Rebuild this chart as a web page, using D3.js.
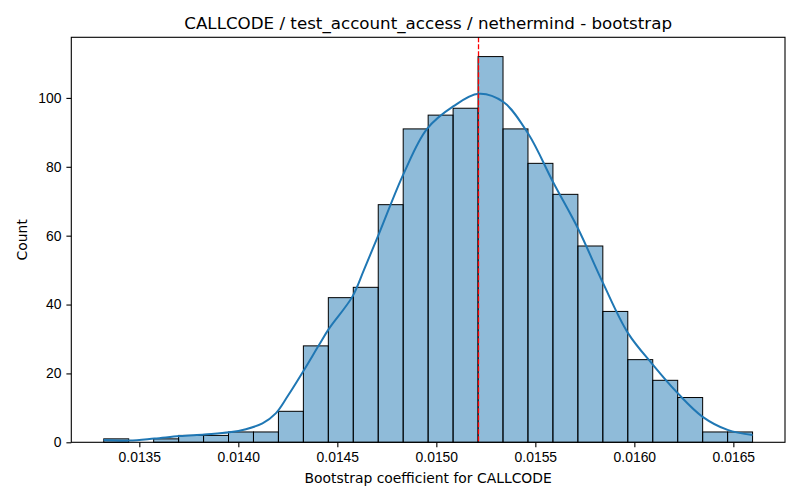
<!DOCTYPE html>
<html>
<head>
<meta charset="utf-8">
<script src="https://cdn.jsdelivr.net/npm/d3@7"></script>
<style>
    body { margin: 0; background: #fff; }
    svg { font-family: "DejaVu Sans", sans-serif; }
    .tick text { font-size: 13.9px; fill: #000; }
    .tick line, .domain { stroke: #000; }
</style>
</head>
<body>
<svg id="chart" width="800" height="500"></svg>
<script>
// histogram of bootstrap samples (26 equal bins between min and max)
var binMin = 0.0133203,
    binMax = 0.016597;
var counts = [1, 0, 1, 2, 2, 3, 3, 9, 28, 42, 45, 69, 91, 95, 97, 112,
              91, 81, 72, 57, 38, 24, 18, 13, 3, 3];

// kde curve (in count units)
var kdeX = [0.013320, 0.013450, 0.013577, 0.013703, 0.013829, 0.013955, 0.014038,
            0.014122, 0.014189, 0.014248, 0.014332, 0.014408, 0.014458, 0.014576,
            0.014634, 0.014710, 0.014835, 0.014953, 0.015087, 0.015213, 0.015339,
            0.015465, 0.015590, 0.015716, 0.015842, 0.015968, 0.016094, 0.016220,
            0.016345, 0.016471, 0.016597];
var kdeY = [0.7, 0.5, 1.1, 1.8, 2.3, 2.9, 3.8, 5.5, 8.4, 13.3, 21, 28.3, 33, 42.3,
            50, 60.5, 78, 91, 97.6, 101.2, 98.8, 89.5, 75.5, 62, 46.2, 31.7, 22.5,
            14.2, 7.4, 3.6, 2.1];

var meanValue = 0.015213;

var xTicks = [0.0135, 0.0140, 0.0145, 0.0150, 0.0155, 0.0160, 0.0165];
var yTicks = [0, 20, 40, 60, 80, 100];

var titleText = "CALLCODE / test_account_access / nethermind - bootstrap",
    xLabel = "Bootstrap coefficient for CALLCODE",
    yLabel = "Count";

var margin = { top: 37.3, right: 15, bottom: 57.7, left: 71.3 },
    width = 800 - margin.left - margin.right,
    height = 500 - margin.top - margin.bottom;

var svg = d3.select("#chart");
var g = svg.append("g")
    .attr("transform", "translate(" + margin.left + "," + margin.top + ")");

var pad = (binMax - binMin) * 0.05;
var x = d3.scaleLinear()
    .domain([binMin - pad, binMax + pad])
    .range([0, width]);
var y = d3.scaleLinear()
    .domain([0, d3.max(counts) * 1.05])
    .range([height, 0]);

var binWidth = (binMax - binMin) / counts.length;
var bins = counts.map(function (c, i) {
    return { x0: binMin + i * binWidth, x1: binMin + (i + 1) * binWidth, count: c };
});

// bars
g.selectAll(".bar")
    .data(bins)
    .enter().append("rect")
    .attr("class", "bar")
    .attr("x", d => x(d.x0))
    .attr("width", d => x(d.x1) - x(d.x0))
    .attr("y", d => y(d.count))
    .attr("height", d => y(0) - y(d.count))
    .attr("fill", "rgba(31,119,180,0.5)")
    .attr("stroke", "#000")
    .attr("stroke-width", 1);

// kde line
var line = d3.line()
    .x(d => x(d[0]))
    .y(d => y(d[1]))
    .curve(d3.curveCatmullRom.alpha(0.5));
g.append("path")
    .datum(kdeX.map((v, i) => [v, kdeY[i]]))
    .attr("d", line)
    .attr("fill", "none")
    .attr("stroke", "#1f77b4")
    .attr("stroke-width", 2);

// mean line
g.append("line")
    .attr("x1", x(meanValue)).attr("x2", x(meanValue))
    .attr("y1", 0).attr("y2", height)
    .attr("stroke", "red")
    .attr("stroke-width", 1.3)
    .attr("stroke-dasharray", "5,2");

// axes
var xAxis = g.append("g")
    .attr("transform", "translate(0," + height + ")")
    .call(d3.axisBottom(x).tickValues(xTicks).tickFormat(d3.format(".4f"))
        .tickSizeInner(4.9).tickSizeOuter(0).tickPadding(4.9));
var yAxis = g.append("g")
    .call(d3.axisLeft(y).tickValues(yTicks).tickSizeInner(4.9).tickSizeOuter(0).tickPadding(4.9));
xAxis.select(".domain").remove();
yAxis.select(".domain").remove();
g.selectAll(".tick line").attr("stroke-width", 1.1);

// frame
g.append("rect")
    .attr("width", width).attr("height", height)
    .attr("fill", "none").attr("stroke", "#000").attr("stroke-width", 1.1);

// labels
svg.append("text")
    .attr("x", margin.left + width / 2).attr("y", 29)
    .attr("text-anchor", "middle")
    .style("font-size", "16.7px")
    .text(titleText);
svg.append("text")
    .attr("x", margin.left + width / 2).attr("y", 483)
    .attr("text-anchor", "middle")
    .style("font-size", "13.9px")
    .text(xLabel);
svg.append("text")
    .attr("transform", "translate(27," + (margin.top + height / 2) + ") rotate(-90)")
    .attr("text-anchor", "middle")
    .style("font-size", "13.9px")
    .text(yLabel);
</script>
</body>
</html>
